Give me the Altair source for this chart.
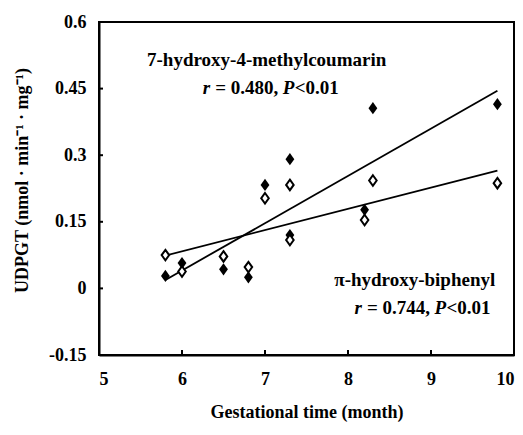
import altair as alt
import pandas as pd

# ---- data ----
months = [5.8, 6.0, 6.5, 6.8, 7.0, 7.3, 7.3, 8.2, 8.3, 9.8]
coumarin_vals = [0.028, 0.057, 0.043, 0.025, 0.233, 0.291, 0.120, 0.177, 0.406, 0.415]   # filled diamonds
biphenyl_vals = [0.075, 0.038, 0.072, 0.048, 0.203, 0.233, 0.109, 0.154, 0.243, 0.237]   # open diamonds

fit_x = [5.8, 9.8]
coumarin_fit = [0.019, 0.445]
biphenyl_fit = [0.074, 0.265]

x_ticks = [5, 6, 7, 8, 9, 10]
y_ticks = [-0.15, 0, 0.15, 0.3, 0.45, 0.6]

FONT = "Liberation Serif"
W, H = 415, 333

pts_filled = pd.DataFrame({"month": months, "val": coumarin_vals})
pts_open = pd.DataFrame({"month": months, "val": biphenyl_vals})
fits = pd.DataFrame({
    "month": fit_x + fit_x,
    "val": coumarin_fit + biphenyl_fit,
    "series": ["c", "c", "b", "b"],
})

xs = alt.Scale(domain=[5, 10], nice=False, zero=False)
ys = alt.Scale(domain=[-0.15, 0.6], nice=False, zero=False)

xaxis = alt.Axis(values=x_ticks, ticks=False, grid=False, labelPadding=15, format="d",
                 title="Gestational time (month)", titlePadding=15)
yaxis = alt.Axis(values=y_ticks, ticks=False, grid=False, labelPadding=13,
                 labelExpr="replace(format(datum.value, '.2~f'), '\u2212', '-')",
                 title="UDPGT (nmol \u00b7 min\u207b\u00b9 \u00b7 mg\u207b\u00b9)", titlePadding=17,
                 titleY=158)

diamond = "M0,-1L0.72,0L0,1L-0.72,0Z"

lines = alt.Chart(fits).mark_line(color="black", strokeWidth=1.8).encode(
    x=alt.X("month:Q", scale=xs, axis=xaxis),
    y=alt.Y("val:Q", scale=ys, axis=yaxis),
    detail="series:N",
)

filled = alt.Chart(pts_filled).mark_point(shape=diamond, filled=True, color="black",
                                          size=150, opacity=1).encode(
    x=alt.X("month:Q", scale=xs), y=alt.Y("val:Q", scale=ys))

opened = alt.Chart(pts_open).mark_point(shape=diamond, fill="white", stroke="black",
                                        strokeWidth=2, size=110, opacity=1,
                                        fillOpacity=1).encode(
    x=alt.X("month:Q", scale=xs), y=alt.Y("val:Q", scale=ys))

# inward tick marks
yt = alt.Chart(pd.DataFrame({"v": y_ticks})).mark_rule(color="black", strokeWidth=2).encode(
    y=alt.Y("v:Q", scale=ys), x=alt.value(0), x2=alt.value(4))
xt = alt.Chart(pd.DataFrame({"v": x_ticks})).mark_rule(color="black", strokeWidth=2).encode(
    x=alt.X("v:Q", scale=xs), y=alt.value(H), y2=alt.value(H - 5))

# annotations
centered = pd.DataFrame({
    "text": ["7-hydroxy-4-methylcoumarin", "\u03c0-hydroxy-biphenyl"],
    "month": [7.02, 8.804],
    "val": [0.5146, 0.019],
})
cent = alt.Chart(centered).mark_text(font=FONT, fontSize=19, fontWeight="bold",
                                     align="center", baseline="middle").encode(
    x=alt.X("month:Q", scale=xs), y=alt.Y("val:Q", scale=ys), text="text:N")

stat_x = [6.25, 8.077]
stat_y = [0.4516, -0.044]
stat_r = ["= 0.480,", "= 0.744,"]

layers = [lines, filled, opened, yt, xt, cent]
for sx, sy, sr in zip(stat_x, stat_y, stat_r):
    d = pd.DataFrame({"month": [sx], "val": [sy]})
    base = alt.Chart(d)
    enc = dict(x=alt.X("month:Q", scale=xs), y=alt.Y("val:Q", scale=ys))
    pieces = [("r", 0, "italic"), (sr, 12.5, "normal"), ("P", 80, "italic"), ("<0.01", 92, "normal")]
    for txt, dx, style in pieces:
        layers.append(base.mark_text(text=txt, dx=dx, font=FONT, fontSize=19, fontWeight="bold",
                                     fontStyle=style, align="left", baseline="middle").encode(**enc))

chart = alt.layer(*layers).properties(
    width=W, height=H,
    autosize=alt.AutoSizeParams(type="none"),
    padding={"left": 91, "top": 14, "right": 1, "bottom": 67},
).configure_view(stroke="black", strokeWidth=2).configure_axis(
    domainColor="black", domainWidth=2,
    labelFont=FONT, labelFontSize=18, labelFontWeight="bold", labelColor="black",
    titleFont=FONT, titleFontSize=18, titleFontWeight="bold", titleColor="black",
)

chart.save("out.html", embed_options={"renderer": "svg", "actions": False})
